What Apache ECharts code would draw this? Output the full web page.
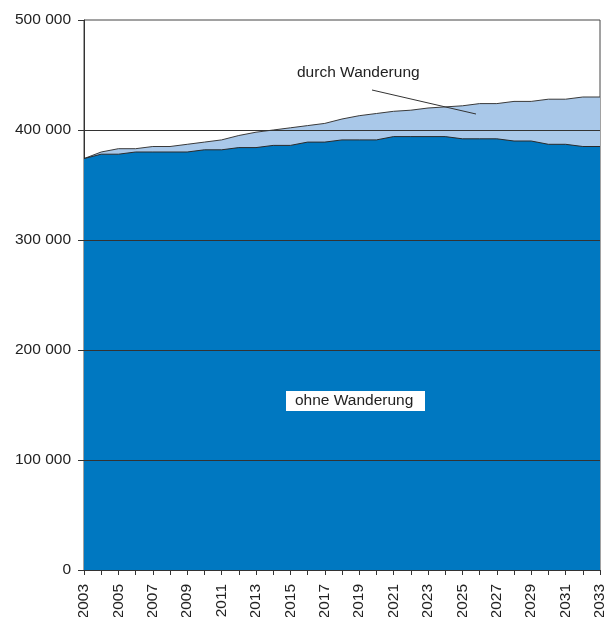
<!DOCTYPE html>
<html>
<head>
<meta charset="utf-8">
<script src="https://cdn.jsdelivr.net/npm/echarts@6/dist/echarts.min.js"></script>
<style>
html,body{margin:0;padding:0;background:#fff;}
#c{width:607px;height:617px;}
</style>
</head>
<body>
<div id="c"></div>
<script>
const years = [];
for (let y = 2003; y <= 2033; y++) years.push(String(y));

// Bevölkerung ohne Wanderung (untere Fläche)
const ohneWanderung = [374000, 378000, 378000, 380000, 380000, 380000, 380000, 382000, 382000, 384000,
  384000, 386000, 386000, 389000, 389000, 391000, 391000, 391000, 394000, 394000,
  394000, 394000, 392000, 392000, 392000, 390000, 390000, 387000, 387000, 385000, 385000];
// Bevölkerung mit Wanderung (obere Linie)
const mitWanderung = [374000, 380000, 383000, 383000, 385000, 385000, 387000, 389000, 391000, 395000,
  398000, 400000, 402000, 404000, 406000, 410000, 413000, 415000, 417000, 418000,
  420000, 421000, 422000, 424000, 424000, 426000, 426000, 428000, 428000, 430000, 430000];
const gridValues = [100000, 200000, 300000, 400000];

const FONT = 'Liberation Sans, Arial, sans-serif';
const FS = 15.5;
const chart = echarts.init(document.getElementById('c'), null, {renderer: 'canvas'});
chart.setOption({
  animation: false,
  grid: {left: 84, right: 7, top: 20, bottom: 47, containLabel: false, outerBoundsMode: 'none',
    show: true, borderColor: '#444', borderWidth: 1, backgroundColor: 'transparent'},
  xAxis: {
    type: 'category', data: years, boundaryGap: false,
    axisLine: {lineStyle: {color: '#333', width: 1}},
    axisTick: {show: true, interval: 0, length: 5, lineStyle: {color: '#333'}},
    axisLabel: {interval: 1, rotate: 90, color: '#222', fontSize: FS, fontFamily: FONT, margin: 14}
  },
  yAxis: {
    type: 'value', min: 0, max: 500000, interval: 100000,
    axisLine: {show: true, lineStyle: {color: '#333', width: 1}},
    axisTick: {show: true, length: 6, lineStyle: {color: '#333'}},
    splitLine: {show: false},
    axisLabel: {color: '#222', fontSize: FS, fontFamily: FONT, margin: 13,
      formatter: v => String(v).replace(/\B(?=(\d{3})+(?!\d))/g, ' ')}
  },
  series: [
    {
      name: 'durch Wanderung', type: 'line', data: mitWanderung, symbol: 'none', z: 2,
      lineStyle: {color: '#3a3a3a', width: 1},
      areaStyle: {color: '#A9C8E9', opacity: 1}
    },
    {
      name: 'ohne Wanderung', type: 'line', data: ohneWanderung, symbol: 'none', z: 3,
      lineStyle: {color: '#2a2a2a', width: 1},
      areaStyle: {color: '#0078C1', opacity: 1},
      markLine: {
        silent: true, symbol: 'none', label: {show: false},
        lineStyle: {color: '#333', width: 1, type: 'solid'},
        data: gridValues.map(v => ({yAxis: v}))
      }
    }
  ],
  graphic: [
    {type: 'text', left: 297, top: 65, z: 10,
      style: {text: 'durch Wanderung', font: FS + 'px ' + FONT, fill: '#222'}},
    {type: 'line', z: 10, shape: {x1: 372, y1: 90, x2: 476, y2: 114},
      style: {stroke: '#333', lineWidth: 1}},
    {type: 'rect', z: 10, shape: {x: 286, y: 391, width: 139, height: 20},
      style: {fill: '#fff'}},
    {type: 'text', left: 295, top: 393, z: 11,
      style: {text: 'ohne Wanderung', font: FS + 'px ' + FONT, fill: '#222'}}
  ]
});
</script>
</body>
</html>
